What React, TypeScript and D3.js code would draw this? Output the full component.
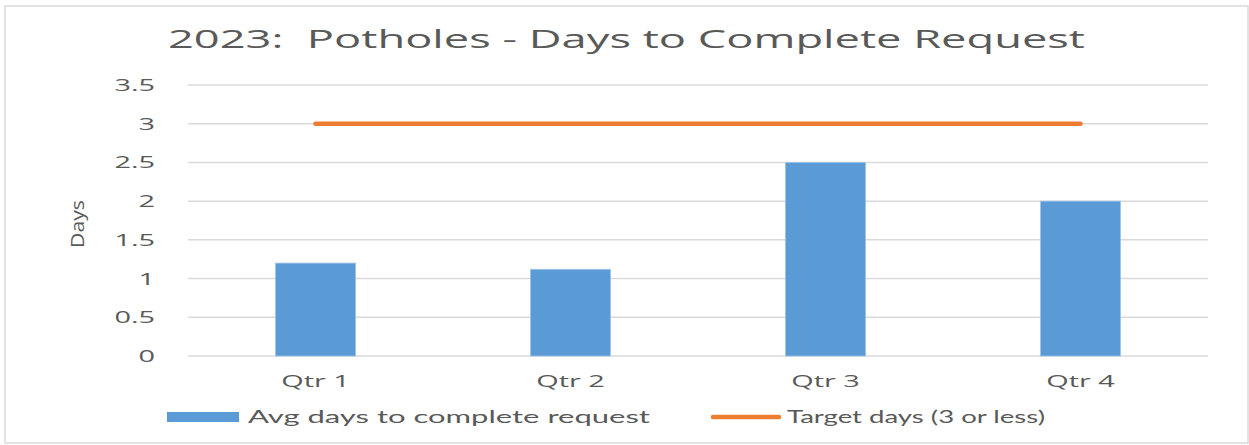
import React from "react";
import * as d3 from "d3";

const quarters = ["Qtr 1", "Qtr 2", "Qtr 3", "Qtr 4"];
const avgDays = [1.2, 1.12, 2.5, 2.0];
const targetDays = [3, 3, 3, 3];
const yTicks = [0, 0.5, 1, 1.5, 2, 2.5, 3, 3.5];
const titleText = "2023:  Potholes - Days to Complete Request";
const yAxisTitle = "Days";
const legendBar = "Avg days to complete request";
const legendLine = "Target days (3 or less)";

const W = 1249;
const H = 445;
const TXT = "#595959";
const BLUE = "#5B9BD5";
const ORANGE = "#ED7D31";
const GRID = "#d9d9d9";
const SX = 1.7;

export default function App() {
  const x = d3
    .scaleBand<string>()
    .domain(quarters)
    .range([188, 1208])
    .paddingInner(0.686)
    .paddingOuter(0.343);
  const y = d3.scaleLinear().domain([0, 3.5]).range([356, 85]);
  const line = d3
    .line<number>()
    .x((_, i) => (x(quarters[i]) as number) + x.bandwidth() / 2)
    .y((d) => y(d));

  return (
    <svg
      width={W}
      height={H}
      style={{ position: "absolute", left: 0, top: 0, background: "#fff" }}
    >
      <rect x={5} y={6} width={1243} height={437} fill="#fff" stroke={GRID} strokeWidth={1.5} />
      <text
        x={168}
        y={48}
        fontFamily="'Open Sans', sans-serif"
        fontSize={25}
        fill={TXT}
        textLength={917}
        lengthAdjust="spacingAndGlyphs"
        style={{ whiteSpace: "pre" }}
      >
        {titleText}
      </text>

      {yTicks.map((t) => (
        <g key={t}>
          <line x1={188} x2={1208} y1={y(t)} y2={y(t)} stroke={GRID} strokeWidth={1.5} />
          <text
            transform={`translate(155,${y(t) + 6}) scale(${SX},1)`}
            textAnchor="end"
            fontFamily="'Open Sans', sans-serif"
            fontSize={17}
            fill={TXT}
          >
            {String(t)}
          </text>
        </g>
      ))}

      <text
        transform={`translate(84,224) rotate(-90)`}
        textAnchor="middle"
        fontFamily="'Open Sans', sans-serif"
        fontSize={19}
        fill={TXT}
        textLength={48}
        lengthAdjust="spacingAndGlyphs"
      >
        {yAxisTitle}
      </text>

      {quarters.map((q, i) => (
        <rect
          key={q}
          x={x(q)}
          y={y(avgDays[i])}
          width={x.bandwidth()}
          height={y(0) - y(avgDays[i])}
          fill={BLUE}
          stroke="#9DC3E6"
          strokeWidth={0.8}
        />
      ))}

      <path
        d={line(targetDays) || ""}
        fill="none"
        stroke={ORANGE}
        strokeWidth={4.5}
        strokeLinecap="round"
      />

      {quarters.map((q) => (
        <text
          key={q}
          transform={`translate(${(x(q) as number) + x.bandwidth() / 2},387) scale(${SX},1)`}
          textAnchor="middle"
          fontFamily="'Open Sans', sans-serif"
          fontSize={17}
          fill={TXT}
        >
          {q}
        </text>
      ))}

      <rect x={167} y={412} width={72} height={10} fill={BLUE} />
      <text
        x={248}
        y={423}
        fontFamily="Lato, sans-serif"
        fontSize={18}
        fill={TXT}
        textLength={402}
        lengthAdjust="spacingAndGlyphs"
      >
        {legendBar}
      </text>
      <line x1={713} x2={779} y1={417} y2={417} stroke={ORANGE} strokeWidth={4.5} strokeLinecap="round" />
      <text
        x={787}
        y={423}
        fontFamily="Lato, sans-serif"
        fontSize={18}
        fill={TXT}
        textLength={258}
        lengthAdjust="spacingAndGlyphs"
      >
        {legendLine}
      </text>
    </svg>
  );
}
